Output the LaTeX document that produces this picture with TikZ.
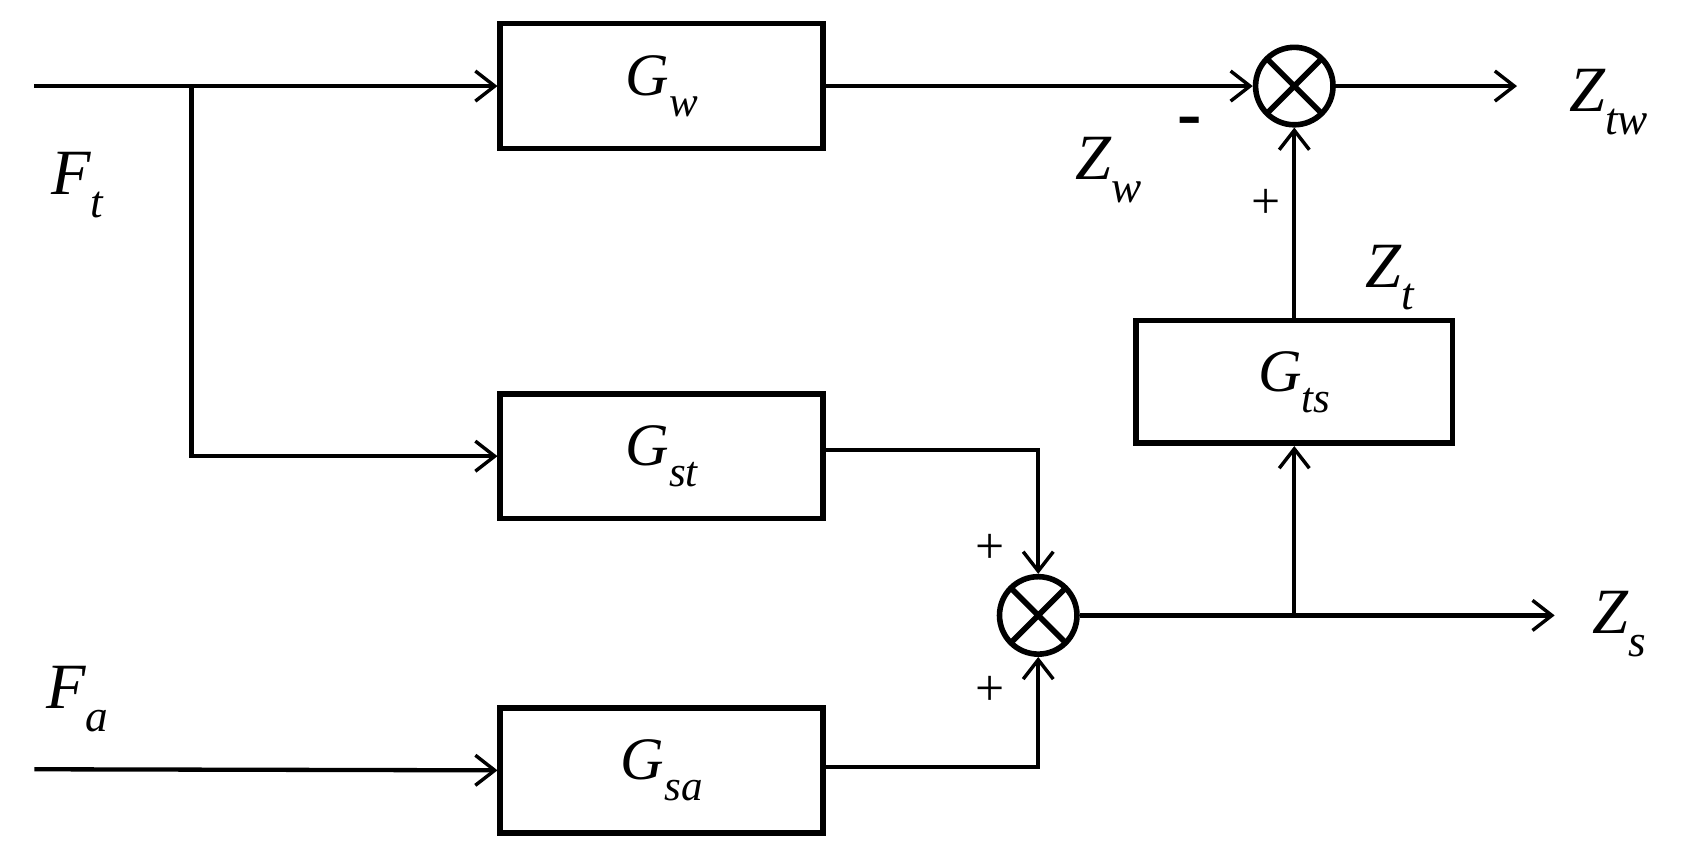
\documentclass[tikz,border=0pt]{standalone}
\usepackage{fontspec}
\setmainfont{Liberation Serif}
\usetikzlibrary{arrows.meta}
\begin{document}
\begin{tikzpicture}[x=0.5pt,y=-0.5pt,
  line width=2pt,
  ar/.style={-{Straight Barb[length=9pt,width=14pt,line width=1.6pt]}},
  blk/.style={draw,line width=2.6pt,minimum width=150pt,minimum height=58pt,font=\fontsize{28}{30}\selectfont\itshape},
  sm/.style={draw,circle,line width=2.6pt,minimum size=36pt,inner sep=0pt,path picture={\draw[line width=2.6pt] (path picture bounding box.north west)--(path picture bounding box.south east) (path picture bounding box.north east)--(path picture bounding box.south west);}},
  lb/.style={font=\fontsize{30}{32}\selectfont\itshape},
  pm/.style={font=\fontsize{24}{26}\selectfont}]
\useasboundingbox (0,0) rectangle (1568,795);
\node[blk] (gw) at (615,80) {G\raisebox{-0.35em}{\fontsize{20}{22}\selectfont w}};
\node[blk] (gst) at (615,424) {G\raisebox{-0.35em}{\fontsize{20}{22}\selectfont st}};
\node[blk] (gsa) at (615,716) {G\raisebox{-0.35em}{\fontsize{20}{22}\selectfont sa}};
\node[blk,minimum width=147pt,minimum height=57pt] (gts) at (1203,355) {G\raisebox{-0.35em}{\fontsize{20}{22}\selectfont ts}};
\node[sm] (s1) at (965,572) {};
\node[sm] (s2) at (1203,80) {};
\coordinate (ft) at (32,80);
\coordinate (fa) at (32,715);
\coordinate (br) at (178,80);
\coordinate (br2) at (1203,572);
\coordinate (ztw) at (1410,80);
\coordinate (zs) at (1445,572);
\draw (ft) -- (br);
\draw[ar] (br) -- (gw.west);
\draw[ar] (br) |- (gst.west);
\draw[ar] (fa) -- (gsa.west);
\draw[ar] (gw.east) -- (s2.west);
\draw[ar] (gst.east |- 0,418) -| (s1.north);
\draw[ar] (gsa.east |- 0,713) -| (s1.south);
\draw[ar] (s1.east) -- (zs);
\draw[ar] (br2) -- (gts.south);
\draw[ar] (gts.north) -- (s2.south);
\draw[ar] (s2.east) -- (ztw);
\node[lb] (lft) at (72,172) {F\raisebox{-0.35em}{\fontsize{21}{22}\selectfont t}};
\node[lb] (lfa) at (72,650) {F\raisebox{-0.35em}{\fontsize{21}{22}\selectfont a}};
\node[lb] (lzw) at (1030,158) {Z\raisebox{-0.35em}{\fontsize{21}{22}\selectfont w}};
\node[lb] (lzt) at (1292,258) {Z\raisebox{-0.35em}{\fontsize{21}{22}\selectfont t}};
\node[lb] (lztw) at (1495,95) {Z\raisebox{-0.35em}{\fontsize{21}{22}\selectfont tw}};
\node[lb] (lzs) at (1505,580) {Z\raisebox{-0.35em}{\fontsize{21}{22}\selectfont s}};
\node[font=\fontsize{34}{34}\selectfont\bfseries] (m) at (1106,118) {-};
\node[pm] (p1) at (1177,190) {+};
\node[pm] (p2) at (920,510) {+};
\node[pm] (p3) at (920,642) {+};
\end{tikzpicture}
\end{document}
